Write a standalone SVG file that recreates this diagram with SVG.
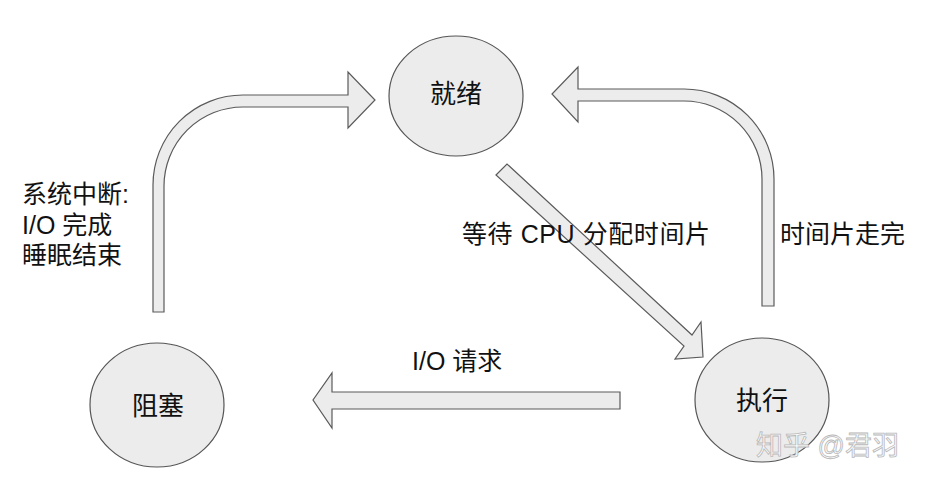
<svg xmlns="http://www.w3.org/2000/svg" width="925" height="485" viewBox="0 0 925 485">
<style>
.node{fill:#ececec;stroke:#555;stroke-width:1.2}
.arrow{fill:#ececec;stroke:#5a5a5a;stroke-width:1.2;stroke-linejoin:miter}
text{font-family:"Liberation Sans","Noto Sans CJK SC",sans-serif;fill:#111}
.nt{font-size:26px;text-anchor:middle}
.lb{font-size:25px}
.wm{font-size:27px;fill:#fafafa;stroke:#b8b8b8;stroke-width:0.8}
</style>
<rect width="925" height="485" fill="#fff"/>
<g id="connectors">
<path class="arrow" d="M153,312 L153,185 A90,90 0 0 1 243,95 L348,95 L348,72 L375,100 L348,128 L348,107 L243,107 A79,79 0 0 0 164,186 L164,312 Z"/>
<path class="arrow" d="M774,306 L774,179 A90,90 0 0 0 684,89 L578,89 L578,67 L552,94 L578,122 L578,101 L684,101 A78,78 0 0 1 762,179 L762,306 Z"/>
<path class="arrow" d="M496,175 L507,164 L692,335 L701,322 L703,357 L675,359 L684,346 Z"/>
<path class="arrow" d="M620,392 L332,392 L332,373 L313,400 L332,428 L332,409 L620,409 Z"/>
</g>
<g id="node-ready">
<ellipse class="node" cx="456" cy="96" rx="67" ry="60"/>
<text class="nt" x="456" y="103">就绪</text>
</g>
<g id="node-running">
<ellipse class="node" cx="762" cy="400" rx="67" ry="62"/>
<text class="nt" x="762" y="410">执行</text>
</g>
<g id="node-blocked">
<ellipse class="node" cx="157" cy="405" rx="67" ry="62"/>
<text class="nt" x="158" y="415">阻塞</text>
</g>
<g id="labels">
<text class="lb" x="22" y="203">系统中断:</text>
<text class="lb" x="22" y="234">I/O 完成</text>
<text class="lb" x="22" y="264">睡眠结束</text>
<text class="lb" x="462" y="243" textLength="248" lengthAdjust="spacing">等待 CPU 分配时间片</text>
<text class="lb" x="780" y="243">时间片走完</text>
<text class="lb" x="412" y="370">I/O 请求</text>
<text class="wm" x="756" y="455">知乎 @君羽</text>
</g>
</svg>
